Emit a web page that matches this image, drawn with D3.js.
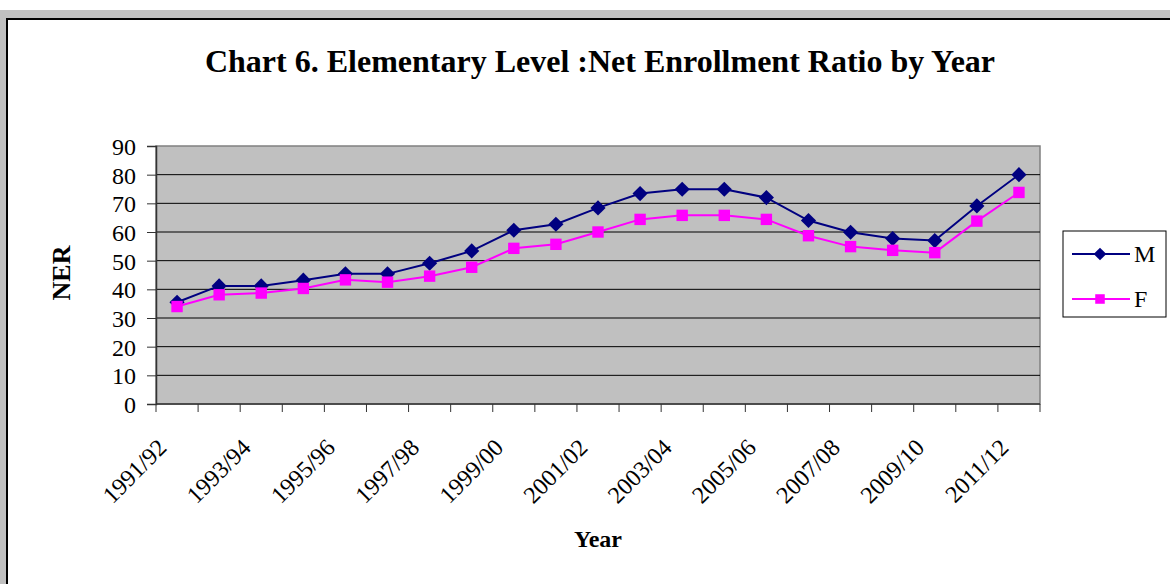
<!DOCTYPE html>
<html>
<head>
<meta charset="utf-8">
<script src="https://cdn.jsdelivr.net/npm/d3@7"></script>
<style>
  html,body{margin:0;padding:0;background:#fff;}
  svg{display:block;}
  svg text{font-family:"Liberation Serif","Times New Roman",serif !important;fill:#000;}
</style>
</head>
<body>
<svg id="chart" width="1170" height="584"></svg>
<script>
// ===== data =====
const years = ["1991/92","1992/93","1993/94","1994/95","1995/96","1996/97","1997/98","1998/99","1999/00","2000/01",
  "2001/02","2002/03","2003/04","2004/05","2005/06","2006/07","2007/08","2008/09","2009/10","2010/11","2011/12"];
const male   = [35.5,41.2,41.2,43.2,45.4,45.4,49.1,53.4,60.6,62.7,68.4,73.4,74.9,74.9,72.0,64.0,59.9,57.7,57.0,69.1,80.0];
const female = [34.0,38.1,38.7,40.3,43.3,42.5,44.6,47.7,54.3,55.7,60.0,64.4,65.8,65.8,64.4,58.7,54.9,53.6,52.8,63.8,73.8];
const yTicks = [0,10,20,30,40,50,60,70,80,90];

// diamond = square turned 45deg (wider than d3.symbolDiamond)
const diamond = {draw(ctx, size){
  const r = Math.sqrt(size/2);
  ctx.moveTo(0,-r); ctx.lineTo(r,0); ctx.lineTo(0,r); ctx.lineTo(-r,0); ctx.closePath();
}};
const series = [
  {name:"M", values:male,   color:"#000080", shape:diamond,          size:115},
  {name:"F", values:female, color:"#ff00ff", shape:d3.symbolSquare,  size:130}
];

// ===== layout =====
const svg = d3.select("#chart");
const M = {left:156, right:1040, top:146, bottom:404};

// outer frame
svg.append("rect").attr("x",0).attr("y",10).attr("width",1170).attr("height",574).attr("fill","#c0c0c0");
svg.append("rect").attr("x",7).attr("y",19).attr("width",1170).attr("height",580)
  .attr("fill","#fff").attr("stroke","#000").attr("stroke-width",2);

svg.append("text").attr("x",600).attr("y",72).attr("text-anchor","middle")
  .attr("font-size","32px").attr("font-weight","bold").text("Chart 6. Elementary Level :Net Enrollment Ratio by Year");

const x = d3.scaleBand().domain(years).range([M.left, M.right]);
const y = d3.scaleLinear().domain([0,90]).range([M.bottom, M.top]);

// plot background
svg.append("rect").attr("x",M.left).attr("y",M.top).attr("width",M.right-M.left).attr("height",M.bottom-M.top)
  .attr("fill","#c0c0c0").attr("stroke","#808080").attr("stroke-width",1.5);

// grid
svg.append("g").selectAll("line").data(yTicks.filter(d => d>0 && d<90)).join("line")
  .attr("x1",M.left).attr("x2",M.right).attr("y1",d=>y(d)).attr("y2",d=>y(d))
  .attr("stroke","#000").attr("stroke-width",1);

// y axis
const gy = svg.append("g").attr("transform",`translate(${M.left},0)`)
  .call(d3.axisLeft(y).tickValues(yTicks).tickSize(9).tickPadding(11));
gy.select(".domain").attr("stroke","#333").attr("stroke-width",1.5);
gy.selectAll("line").attr("stroke","#333");
gy.selectAll("text").style("font-size","24px").attr("dy","0.35em");

// x axis: ticks at category boundaries
const bounds = d3.range(years.length+1).map(i => M.left + i*x.step());
const gx = svg.append("g");
gx.append("line").attr("x1",M.left).attr("x2",M.right).attr("y1",M.bottom).attr("y2",M.bottom)
  .attr("stroke","#333").attr("stroke-width",1.5);
gx.selectAll("line.t").data(bounds).join("line").attr("class","t")
  .attr("x1",d=>d).attr("x2",d=>d).attr("y1",M.bottom).attr("y2",M.bottom+8).attr("stroke","#333");
gx.selectAll("text").data(years.filter((d,i)=>i%2===0)).join("text")
  .attr("transform",d=>`translate(${x(d)+x.bandwidth()/2-9},${M.bottom+45}) rotate(-45)`)
  .attr("text-anchor","end").style("font-size","24px").text(d=>d);

// axis titles
svg.append("text").attr("transform","translate(70,273) rotate(-90)").attr("text-anchor","middle")
  .attr("font-size","26px").attr("font-weight","bold").text("NER");
svg.append("text").attr("x",598).attr("y",547).attr("text-anchor","middle")
  .attr("font-size","24px").attr("font-weight","bold").text("Year");

// lines + markers
const cx = d => x(d) + x.bandwidth()/2;
const line = d3.line().x((v,i)=>cx(years[i])).y(v=>y(v));
series.forEach(s=>{
  svg.append("path").attr("d",line(s.values)).attr("fill","none").attr("stroke",s.color).attr("stroke-width",2);
  svg.append("g").selectAll("path").data(s.values).join("path")
    .attr("transform",(v,i)=>`translate(${cx(years[i])},${y(v)})`)
    .attr("d",d3.symbol().type(s.shape).size(s.size)).attr("fill",s.color);
});

// legend
const lg = svg.append("g");
lg.append("rect").attr("x",1063).attr("y",231).attr("width",103).attr("height",86)
  .attr("fill","#fff").attr("stroke","#000").attr("stroke-width",1);
series.forEach((s,i)=>{
  const ly = 254 + i*45;
  lg.append("line").attr("x1",1072).attr("x2",1130).attr("y1",ly).attr("y2",ly).attr("stroke",s.color).attr("stroke-width",2);
  lg.append("path").attr("transform",`translate(1100,${ly})`)
    .attr("d",d3.symbol().type(s.shape).size(s.size*0.7)).attr("fill",s.color);
  lg.append("text").attr("x",1134).attr("y",ly+8).attr("font-size","24px").text(s.name);
});
</script>
</body>
</html>
